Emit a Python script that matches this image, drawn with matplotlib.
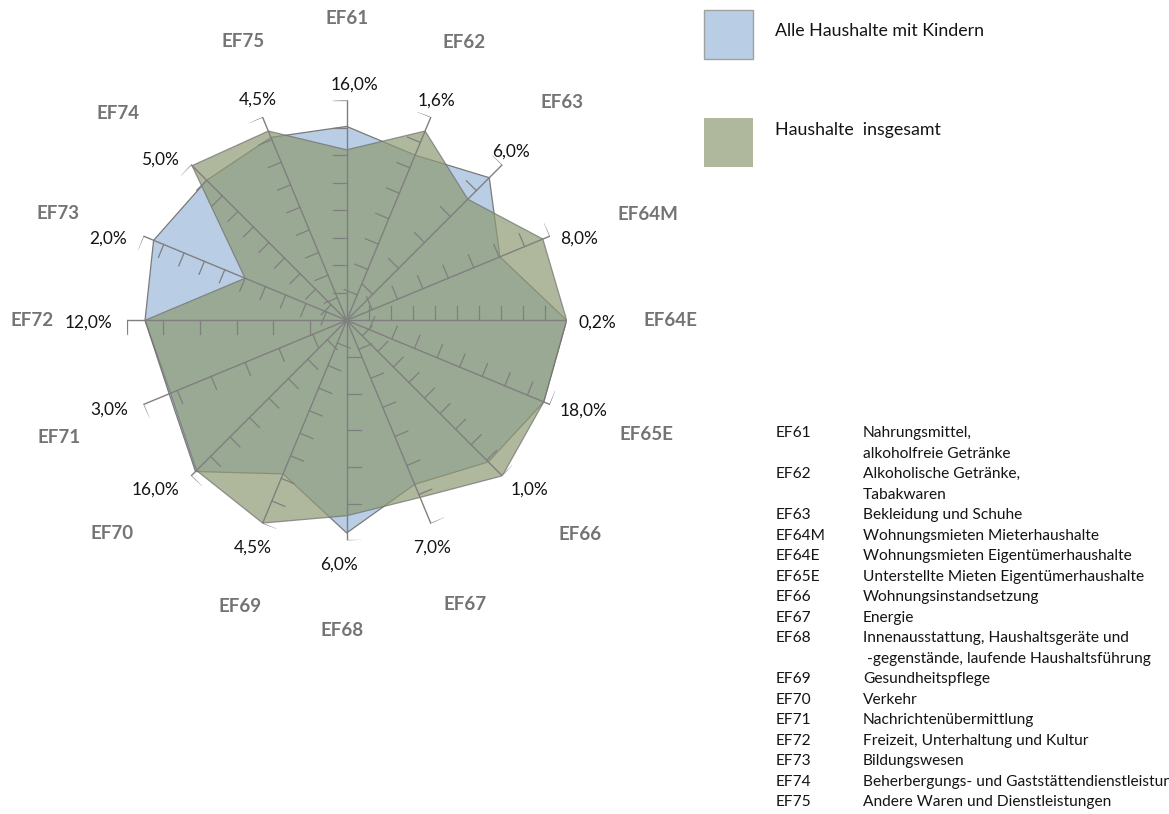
import numpy as np
import matplotlib
matplotlib.use("Agg")
import matplotlib.pyplot as plt
from matplotlib.patches import Rectangle

plt.rcParams['font.family'] = ['Lato', 'DejaVu Sans']

# --- data -------------------------------------------------------------
categories = ["EF61", "EF62", "EF63", "EF64M", "EF64E", "EF65E", "EF66", "EF67",
              "EF68", "EF69", "EF70", "EF71", "EF72", "EF73", "EF74", "EF75"]
axis_max = [16.0, 1.6, 6.0, 8.0, 0.2, 18.0, 1.0, 7.0,
            6.0, 4.5, 16.0, 3.0, 12.0, 2.0, 5.0, 4.5]
axis_step = [2.0, 0.2, 1.0, 1.0, 0.02, 2.0, 0.1, 1.0,
             1.0, 0.5, 2.0, 0.5, 2.0, 0.2, 0.5, 0.5]
mit_kindern = [14.1, 1.30, 5.50, 6.03, 0.20, 17.45, 0.91, 5.65,
               5.80, 3.40, 15.55, 2.62, 11.0, 1.90, 4.50, 4.05]
insgesamt = [12.4, 1.49, 4.67, 7.72, 0.20, 17.45, 1.00, 6.10,
             5.33, 4.49, 15.45, 2.60, 11.0, 1.00, 4.97, 4.19]
series_names = ["Alle Haushalte mit Kindern", "Haushalte  insgesamt"]

legend_codes = ["EF61", "", "EF62", "", "EF63", "EF64M", "EF64E", "EF65E", "EF66",
                "EF67", "EF68", "", "EF69", "EF70", "EF71", "EF72", "EF73", "EF74", "EF75"]
legend_texts = ["Nahrungsmittel,", "alkoholfreie Getränke",
                "Alkoholische Getränke,", "Tabakwaren",
                "Bekleidung und Schuhe",
                "Wohnungsmieten Mieterhaushalte",
                "Wohnungsmieten Eigentümerhaushalte",
                "Unterstellte Mieten Eigentümerhaushalte",
                "Wohnungsinstandsetzung",
                "Energie",
                "Innenausstattung, Haushaltsgeräte und",
                " -gegenstände, laufende Haushaltsführung",
                "Gesundheitspflege",
                "Verkehr",
                "Nachrichtenübermittlung",
                "Freizeit, Unterhaltung und Kultur",
                "Bildungswesen",
                "Beherbergungs- und Gaststättendienstleistungen",
                "Andere Waren und Dienstleistungen"]

# --- layout of the axis annotations (radius in axis lengths, angle in degrees)
max_label_r = [1.07, 1.08, 1.07, 1.12, 1.14, 1.15, 1.135, 1.105,
               1.11, 1.12, 1.16, 1.155, 1.175, 1.145, 1.12, 1.08]
max_label_a = [2.0, 22.3, 44.3, 70.6, 90.6, 110.8, 132.8, 159.5,
               181.8, 202.4, 228.5, 249.3, 269.4, 288.8, 310.6, 338.1]
cat_label_r = [1.37, 1.37, 1.39, 1.45, 1.47, 1.46, 1.44, 1.40,
               1.41, 1.39, 1.44, 1.41, 1.43, 1.40, 1.40, 1.35]
cat_label_a = [0.0, 22.9, 44.7, 70.7, 90.0, 110.9, 132.5, 157.5,
               180.9, 200.5, 227.7, 247.9, 270.0, 290.3, 312.2, 339.6]

# --- styling ----------------------------------------------------------
BLUE = "#B9CDE5"
GREEN = "#8E9A72"
GREEN_ALPHA = 0.7
AXIS_GREY = "#7F7F7F"
LABEL_GREY = "#747474"
TEXT = "#141414"

W, H = 1169, 814
fig = plt.figure(figsize=(W / 100, H / 100), dpi=100)

cx, cy, R = 346.7, 320.3, 220.0
ax = fig.add_axes([(cx - R) / W, 1 - (cy + R) / H, 2 * R / W, 2 * R / H],
                  projection="polar")
ax.set_theta_zero_location("N")
ax.set_theta_direction(-1)
ax.set_ylim(0, 1)
ax.set_axis_off()

n = len(categories)
theta = np.arange(n) * 2 * np.pi / n
vmax = np.array(axis_max)


def closed(a):
    return np.concatenate([a, a[:1]])


r_kind = np.array(mit_kindern) / vmax
r_ges = np.array(insgesamt) / vmax

ax.fill(closed(theta), closed(r_kind), facecolor=BLUE, edgecolor="#7A7A7A",
        linewidth=0.9, zorder=2)
ax.fill(closed(theta), closed(r_ges), facecolor=GREEN, alpha=GREEN_ALPHA,
        edgecolor="#6E6E6E", linewidth=0.9, zorder=3)

# individual value axes with perpendicular tick marks
tick_len = 14.0 / R
for th, mx, st in zip(theta, axis_max, axis_step):
    ax.plot([th, th], [0, 1], color=AXIS_GREY, linewidth=1.0, zorder=4,
            solid_capstyle="butt")
    ux, uy = np.sin(th), np.cos(th)
    px, py = -np.cos(th), np.sin(th)        # counter-clockwise side
    k = int(round(mx / st))
    for i in range(1, k + 1):
        r0 = i * st / mx
        ex, ey = r0 * ux + tick_len * px, r0 * uy + tick_len * py
        ax.plot([th, np.arctan2(ex, ey)], [r0, np.hypot(ex, ey)],
                color=AXIS_GREY, linewidth=0.9, zorder=4)

# maximum value at the end of each axis, category code further out
for i, (mx, cat) in enumerate(zip(axis_max, categories)):
    lbl = f"{mx:.1f}".replace(".", ",") + "%"
    ax.text(np.radians(max_label_a[i]), max_label_r[i], lbl, ha="center",
            va="center", fontsize=12.5, color=TEXT, zorder=5)
    ax.text(np.radians(cat_label_a[i]), cat_label_r[i], cat, ha="center",
            va="center", fontsize=13.5, fontweight="bold", color=LABEL_GREY,
            zorder=5)

# series legend
swatches = [(BLUE, 1.0, "#A0A0A0"), (GREEN, GREEN_ALPHA, "none")]
swatch_top = [10, 118]
text_y = [31, 130]
for (fc, al, ec), top, ty, name in zip(swatches, swatch_top, text_y, series_names):
    fig.add_artist(Rectangle((704 / W, 1 - (top + 49) / H), 49 / W, 49 / H,
                             transform=fig.transFigure, facecolor=fc, alpha=al,
                             edgecolor=ec, linewidth=1.0))
    fig.text(775 / W, 1 - ty / H, name, ha="left", va="center",
             fontsize=12.8, color=TEXT)

# category key
for i, (code, txt) in enumerate(zip(legend_codes, legend_texts)):
    y = 1 - (433.3 + i * 20.5) / H
    fig.text(776 / W, y, code, ha="left", va="center", fontsize=11.2, color=TEXT)
    fig.text(863 / W, y, txt, ha="left", va="center", fontsize=11.2, color=TEXT)

fig.savefig("out.png", dpi=100)
